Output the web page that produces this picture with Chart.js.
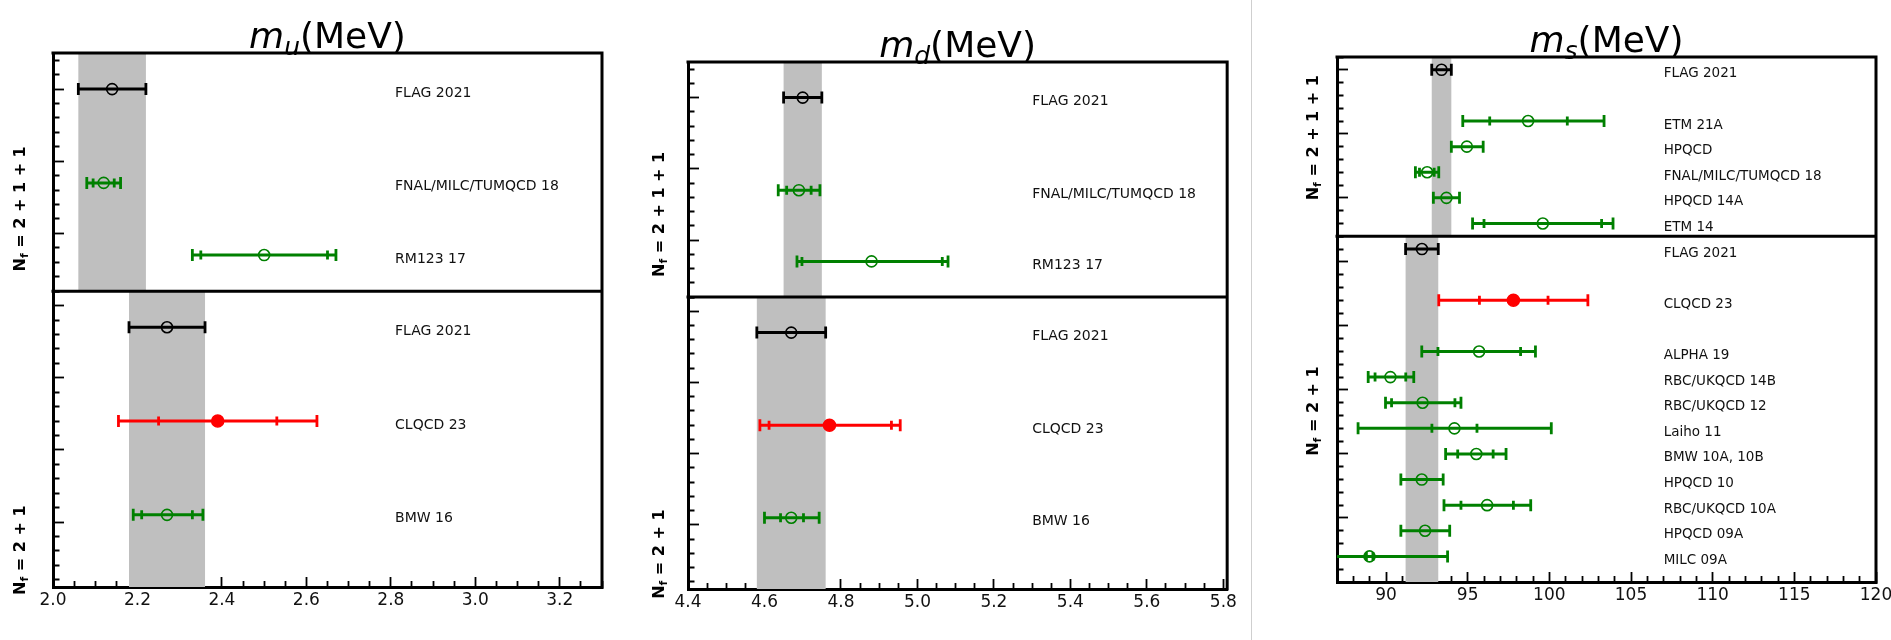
<!DOCTYPE html>
<html>
<head>
<meta charset="utf-8">
<script src="https://cdn.jsdelivr.net/npm/chart.js@4.4.1/dist/chart.umd.min.js"></script>
<style>
  html, body { margin: 0; padding: 0; background: #fff; width: 1891px; height: 640px; overflow: hidden; }
  canvas { position: absolute; top: 0; }
  #sep { position: absolute; left: 1251px; top: 0; width: 1px; height: 640px; background: #cfcfcf; }
</style>
</head>
<body>
<canvas id="cu" width="620" height="640" style="left:0px"></canvas>
<canvas id="cd" width="630" height="640" style="left:620px"></canvas>
<div id="sep"></div>
<canvas id="cs" width="665" height="640" style="left:1255px"></canvas>
<script>
// ---- m_u, Nf = 2+1+1 ----
const muTopNames = ['FLAG 2021', 'FNAL/MILC/TUMQCD 18', 'RM123 17'];
const muTopRows = [0, 1.3, 2.3];
const muTopVal = [2.14, 2.12, 2.50];
const muTopLo = [2.06, 2.08, 2.33];
const muTopHi = [2.22, 2.16, 2.67];
const muTopStatLo = [null, 2.095, 2.35];
const muTopStatHi = [null, 2.145, 2.65];
// ---- m_u, Nf = 2+1 ----
const muBotNames = ['FLAG 2021', 'CLQCD 23', 'BMW 16'];
const muBotRows = [0.3, 1.6, 2.9];
const muBotVal = [2.27, 2.39, 2.27];
const muBotLo = [2.18, 2.155, 2.19];
const muBotHi = [2.36, 2.625, 2.355];
const muBotStatLo = [null, 2.25, 2.21];
const muBotStatHi = [null, 2.53, 2.33];

// ---- m_d, Nf = 2+1+1 ----
const mdTopNames = ['FLAG 2021', 'FNAL/MILC/TUMQCD 18', 'RM123 17'];
const mdTopRows = [0, 1.3, 2.3];
const mdTopVal = [4.70, 4.69, 4.88];
const mdTopLo = [4.65, 4.636, 4.685];
const mdTopHi = [4.75, 4.745, 5.08];
const mdTopStatLo = [null, 4.658, 4.698];
const mdTopStatHi = [null, 4.722, 5.065];
// ---- m_d, Nf = 2+1 ----
const mdBotNames = ['FLAG 2021', 'CLQCD 23', 'BMW 16'];
const mdBotRows = [0.3, 1.6, 2.9];
const mdBotVal = [4.67, 4.77, 4.67];
const mdBotLo = [4.58, 4.588, 4.60];
const mdBotHi = [4.76, 4.955, 4.743];
const mdBotStatLo = [null, 4.612, 4.642];
const mdBotStatHi = [null, 4.932, 4.702];

// ---- m_s, Nf = 2+1+1 ----
const msTopNames = ['FLAG 2021', 'ETM 21A', 'HPQCD', 'FNAL/MILC/TUMQCD 18', 'HPQCD 14A', 'ETM 14'];
const msTopRows = [0, 0.8, 1.2, 1.6, 2.0, 2.4];
const msTopVal = [93.4, 98.7, 94.95, 92.52, 93.7, 99.6];
const msTopLo = [92.8, 94.7, 94.0, 91.8, 92.9, 95.3];
const msTopHi = [94.0, 103.35, 95.95, 93.23, 94.5, 103.9];
const msTopStatLo = [null, 96.35, null, 92.05, null, 96.0];
const msTopStatHi = [null, 101.1, null, 92.95, null, 103.2];
// ---- m_s, Nf = 2+1 ----
const msBotNames = ['FLAG 2021', 'CLQCD 23', 'ALPHA 19', 'RBC/UKQCD 14B', 'RBC/UKQCD 12', 'Laiho 11',
  'BMW 10A, 10B', 'HPQCD 10', 'RBC/UKQCD 10A', 'HPQCD 09A', 'MILC 09A'];
const msBotRows = [-0.2, 0.6, 1.4, 1.8, 2.2, 2.6, 3.0, 3.4, 3.8, 4.2, 4.6];
const msBotVal = [92.2, 97.8, 95.7, 90.27, 92.24, 94.19, 95.53, 92.19, 96.19, 92.39, 88.99];
const msBotLo = [91.2, 93.23, 92.19, 88.91, 89.97, 88.29, 93.65, 90.91, 93.55, 90.91, 84.2];
const msBotHi = [93.2, 102.36, 99.15, 91.70, 94.59, 100.12, 97.35, 93.50, 98.86, 93.90, 93.77];
const msBotStatLo = [null, 95.72, 93.18, 89.33, 90.34, 92.81, 94.39, null, 94.59, null, 88.8];
const msBotStatHi = [null, 99.92, 98.24, 91.21, 94.22, 95.57, 96.56, null, 97.80, null, 89.2];

const BLACK = '#000000', GREEN = '#008000', RED = '#ff0000', BAND = '#bfbfbf';

function colourOf(name) {
  if (name.startsWith('FLAG')) return BLACK;
  if (name.startsWith('CLQCD')) return RED;
  return GREEN;
}

function near(v, step) {
  const r = v / step;
  return Math.abs(r - Math.round(r)) < 1e-6;
}

function stepTicks(min, max, step) {
  const out = [];
  for (let k = Math.ceil(min / step - 1e-6); k * step <= max + 1e-9; k++) {
    out.push({value: +(k * step).toFixed(6)});
  }
  return out;
}

function group(names, rows, val, lo, hi, slo, shi) {
  return {names, rows, val, lo, hi, slo, shi};
}

function kindOf(c) {
  return c.raw ? c.raw.k : 'cap';
}

// one dataset per measurement + the grey FLAG band
function buildDatasets(g, axisId, yRange) {
  const sets = [];
  g.names.forEach((name, i) => {
    const col = colourOf(name);
    const solid = col === RED;
    const row = g.rows[i];
    const pts = [{x: g.lo[i], y: row, k: 'cap'}];
    if (g.slo[i] != null) pts.push({x: g.slo[i], y: row, k: 'inner'});
    pts.push({x: g.val[i], y: row, k: 'mark'});
    if (g.shi[i] != null) pts.push({x: g.shi[i], y: row, k: 'inner'});
    pts.push({x: g.hi[i], y: row, k: 'cap'});
    sets.push({
      data: pts,
      yAxisID: axisId,
      showLine: true,
      borderColor: col,
      borderWidth: 3,
      pointStyle: c => kindOf(c) === 'mark' ? 'circle' : 'line',
      pointRotation: c => kindOf(c) === 'mark' ? 0 : 90,
      pointRadius: c => {
        const k = kindOf(c);
        return k === 'cap' ? 6 : k === 'inner' ? 4.5 : (solid ? 6 : 5.5);
      },
      pointBorderWidth: c => kindOf(c) === 'mark' ? 1.6 : 2.8,
      pointBorderColor: col,
      pointBackgroundColor: c => (kindOf(c) === 'mark' && solid) ? col : 'rgba(0,0,0,0)',
      order: 1
    });
  });
  // band = FLAG 2021 interval (first entry)
  sets.push({
    data: [
      {x: g.lo[0], y: yRange[0]}, {x: g.hi[0], y: yRange[0]},
      {x: g.hi[0], y: yRange[1]}, {x: g.lo[0], y: yRange[1]}
    ],
    yAxisID: axisId,
    showLine: true,
    fill: 'shape',
    backgroundColor: BAND,
    borderColor: 'rgba(0,0,0,0)',
    borderWidth: 0,
    pointRadius: 0,
    order: 10
  });
  return sets;
}

function yScale(range, weight) {
  return {
    type: 'linear',
    position: 'left',
    stack: 'panel',
    stackWeight: range[1] - range[0],
    weight: weight,
    reverse: true,
    min: range[0],
    max: range[1],
    afterBuildTicks: s => { s.ticks = stepTicks(s.min, s.max, 0.2); },
    afterFit: s => { s.width = 0; },
    border: {display: true, color: '#000', width: 3},
    grid: {
      display: true,
      drawOnChartArea: false,
      tickLength: -11,
      tickColor: '#000',
      tickWidth: 1.8,
      tickBorderDash: c => (c.tick && near(c.tick.value, 1)) ? [] : [0, 4.5, 20, 100]
    },
    ticks: {display: false}
  };
}

function drawTitle(ctx, cx, baseY, sub) {
  const it = 'italic 36px "DejaVu Sans"';
  const sm = 'italic 25px "DejaVu Sans"';
  const rg = '36px "DejaVu Sans"';
  ctx.font = it; const wm = ctx.measureText('m').width;
  ctx.font = sm; const ws = ctx.measureText(sub).width;
  ctx.font = rg; const wr = ctx.measureText('(MeV)').width;
  let x = cx - (wm + ws + wr) / 2;
  ctx.fillStyle = '#000';
  ctx.textAlign = 'left';
  ctx.textBaseline = 'alphabetic';
  ctx.font = it; ctx.fillText('m', x, baseY); x += wm;
  ctx.font = sm; ctx.fillText(sub, x, baseY + 7); x += ws;
  ctx.font = rg; ctx.fillText('(MeV)', x, baseY);
}

function drawNf(ctx, cx, cy, rest) {
  const big = 'bold 16px "DejaVu Sans"';
  const small = 'bold 11px "DejaVu Sans"';
  ctx.save();
  ctx.translate(cx, cy);
  ctx.rotate(-Math.PI / 2);
  ctx.font = big; const wN = ctx.measureText('N').width; const wR = ctx.measureText(rest).width;
  ctx.font = small; const wF = ctx.measureText('f').width;
  let x = -(wN + wF + wR) / 2;
  const base = 5.8;
  ctx.fillStyle = '#000';
  ctx.textAlign = 'left';
  ctx.textBaseline = 'alphabetic';
  ctx.font = big; ctx.fillText('N', x, base); x += wN;
  ctx.font = small; ctx.fillText('f', x, base + 3.5); x += wF;
  ctx.font = big; ctx.fillText(rest, x, base);
  ctx.restore();
}

function makePanel(p) {
  const top = group(...p.top);
  const bot = group(...p.bot);
  const datasets = buildDatasets(top, 'yU', p.yTop).concat(buildDatasets(bot, 'yL', p.yBot));

  const decor = {
    id: 'decor' + p.id,
    afterDraw(chart) {
      const {ctx, chartArea: a, scales} = chart;
      const x = scales.x, yU = scales.yU, yL = scales.yL;
      ctx.save();
      // remaining frame: top, right and the divider between Nf groups
      ctx.strokeStyle = '#000';
      ctx.lineWidth = 3;
      ctx.lineCap = 'square';
      ctx.beginPath();
      ctx.moveTo(a.left, a.top); ctx.lineTo(a.right, a.top);
      ctx.moveTo(a.right, a.top); ctx.lineTo(a.right, a.bottom);
      ctx.moveTo(a.left, yU.bottom); ctx.lineTo(a.right, yU.bottom);
      ctx.stroke();
      // entry names
      ctx.fillStyle = '#111';
      ctx.textAlign = 'left';
      ctx.textBaseline = 'alphabetic';
      ctx.font = p.labelSize + 'px "DejaVu Sans"';
      const lx = x.getPixelForValue(p.labelX);
      top.names.forEach((n, i) => ctx.fillText(n, lx, yU.getPixelForValue(top.rows[i]) + 7.5));
      bot.names.forEach((n, i) => ctx.fillText(n, lx, yL.getPixelForValue(bot.rows[i]) + 7.5));
      // title and Nf labels
      drawTitle(ctx, (a.left + a.right) / 2, a.top - 5, p.sub);
      drawNf(ctx, a.left - p.nfOffset, yU.getPixelForValue(p.nfTop), ' = 2 + 1 + 1');
      drawNf(ctx, a.left - p.nfOffset, yL.getPixelForValue(p.nfBot), ' = 2 + 1');
      ctx.restore();
    }
  };

  new Chart(document.getElementById(p.id), {
    type: 'scatter',
    data: {datasets},
    options: {
      responsive: false,
      animation: false,
      events: [],
      devicePixelRatio: 1,
      layout: {padding: p.pad},
      plugins: {legend: {display: false}, tooltip: {enabled: false}},
      scales: {
        x: {
          type: 'linear',
          position: 'bottom',
          min: p.xRange[0],
          max: p.xRange[1],
          afterBuildTicks: s => { s.ticks = stepTicks(s.min, s.max, p.xMinor); },
          afterFit: s => { s.height = 40; },
          border: {display: true, color: '#000', width: 3},
          grid: {
            display: true,
            drawOnChartArea: false,
            tickLength: -10,
            tickColor: '#000',
            tickWidth: 1.8,
            tickBorderDash: c => (c.tick && near(c.tick.value, p.xMajor)) ? [] : [8, 100]
          },
          ticks: {
            autoSkip: false,
            maxRotation: 0,
            minRotation: 0,
            padding: 13,
            color: '#111',
            font: {family: 'DejaVu Sans', size: 17},
            callback: v => near(v, p.xMajor) ? p.fmt(v) : ''
          }
        },
        yU: yScale(p.yTop, 1),
        yL: yScale(p.yBot, 0)
      }
    },
    plugins: [decor]
  });
}

makePanel({
  id: 'cu', sub: 'u',
  top: [muTopNames, muTopRows, muTopVal, muTopLo, muTopHi, muTopStatLo, muTopStatHi],
  bot: [muBotNames, muBotRows, muBotVal, muBotLo, muBotHi, muBotStatLo, muBotStatHi],
  yTop: [-0.5, 2.8], yBot: [-0.2, 3.9],
  xRange: [2.0, 3.3], xMinor: 0.05, xMajor: 0.2, fmt: v => v.toFixed(1),
  labelX: 2.81, labelSize: 14,
  nfOffset: 34, nfTop: 1.66, nfBot: 3.39,
  pad: {left: 53, top: 53, right: 18, bottom: 13}
});

makePanel({
  id: 'cd', sub: 'd',
  top: [mdTopNames, mdTopRows, mdTopVal, mdTopLo, mdTopHi, mdTopStatLo, mdTopStatHi],
  bot: [mdBotNames, mdBotRows, mdBotVal, mdBotLo, mdBotHi, mdBotStatLo, mdBotStatHi],
  yTop: [-0.5, 2.8], yBot: [-0.2, 3.9],
  xRange: [4.4, 5.81], xMinor: 0.05, xMajor: 0.2, fmt: v => v.toFixed(1),
  labelX: 5.30, labelSize: 14,
  nfOffset: 30, nfTop: 1.64, nfBot: 3.41,
  pad: {left: 68, top: 62, right: 20, bottom: 11}
});

makePanel({
  id: 'cs', sub: 's',
  top: [msTopNames, msTopRows, msTopVal, msTopLo, msTopHi, msTopStatLo, msTopStatHi],
  bot: [msBotNames, msBotRows, msBotVal, msBotLo, msBotHi, msBotStatLo, msBotStatHi],
  yTop: [-0.2, 2.6], yBot: [-0.4, 5.0],
  xRange: [87, 120], xMinor: 1, xMajor: 5, fmt: v => String(Math.round(v)),
  labelX: 107.0, labelSize: 13.5,
  nfOffset: 25, nfTop: 1.06, nfBot: 2.33,
  pad: {left: 82, top: 57, right: 44, bottom: 18}
});
</script>
</body>
</html>
